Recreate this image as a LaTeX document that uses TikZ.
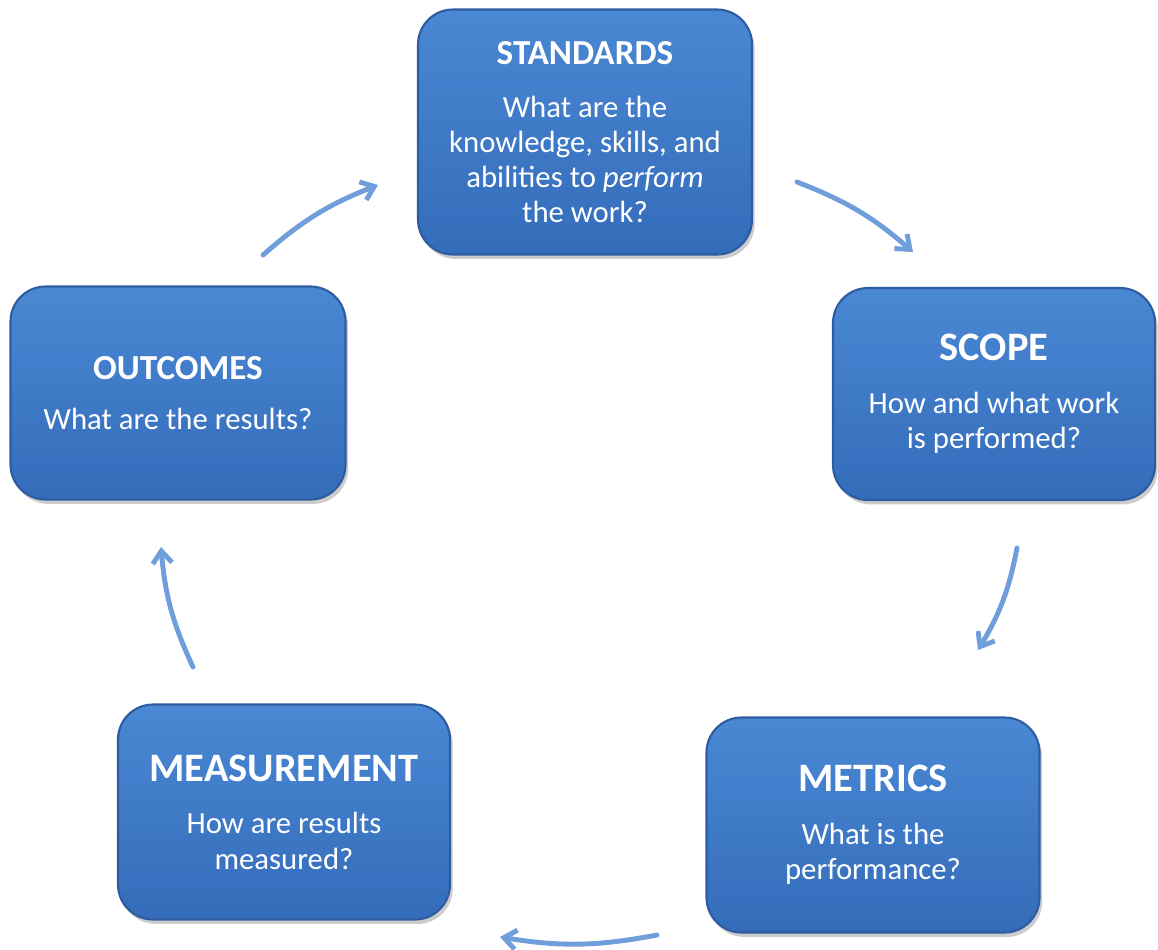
\documentclass[tikz,border=0pt]{standalone}
\usepackage{fontspec}
\setmainfont{Carlito}
\usetikzlibrary{arrows.meta,shadows,positioning}
\definecolor{boxtop}{RGB}{74,136,212}
\definecolor{boxbot}{RGB}{52,108,186}
\definecolor{boxedge}{RGB}{46,92,160}
\definecolor{arrowblue}{RGB}{112,158,218}
\newcommand{\bodytxt}{\fontsize{17.5}{20}\selectfont}
\newcommand{\headA}[1]{{\fontsize{20}{24}\selectfont\bfseries #1}}
\newcommand{\headB}[1]{{\fontsize{23}{27}\selectfont\bfseries #1}}
\tikzset{
  stepbox/.style={rounded corners=0.7cm, top color=boxtop, bottom color=boxbot, draw=boxedge, line width=1.2pt,
    drop shadow={opacity=0.4, shadow xshift=1.5pt, shadow yshift=-2.5pt},
    text=white, align=center, inner sep=0pt, font=\bodytxt},
  cyc/.style={-{Straight Barb[length=7pt,width=11pt]}, line width=2.8pt, color=arrowblue, line cap=round},
}
\begin{document}
\begin{tikzpicture}
\useasboundingbox (0,0) rectangle (23.16,-18.98);
\node[stepbox, minimum width=6.68cm, minimum height=4.9cm](std) at (11.70,-2.64) {\headA{STANDARDS}\\[10pt] What are the\\ knowledge, skills, and\\ abilities to \textit{perform}\\ the work?};
\node[stepbox, minimum width=6.44cm, minimum height=4.24cm](scp) at (19.88,-7.88) {\headB{SCOPE}\\[10pt] How and what work\\ is performed?};
\node[stepbox, minimum width=6.66cm, minimum height=4.3cm](met) at (17.46,-16.50) {\headB{METRICS}\\[10pt] What is the\\ performance?};
\node[stepbox, minimum width=6.64cm, minimum height=4.3cm](mea) at (5.68,-16.24) {\headB{MEASUREMENT}\\[10pt] How are results\\ measured?};
\node[stepbox, minimum width=6.7cm, minimum height=4.26cm](out) at (3.56,-7.86) {\headA{OUTCOMES}\\[8pt] What are the results?};

\coordinate (a1) at (5.26,-5.10);  \coordinate (b1) at (7.56,-3.70);
\coordinate (a2) at (15.94,-3.64); \coordinate (b2) at (18.26,-5.04);
\coordinate (a3) at (20.34,-10.96);\coordinate (b3) at (19.56,-13.00);
\coordinate (a4) at (13.14,-18.70);\coordinate (b4) at (10.00,-18.74);
\coordinate (a5) at (3.86,-13.34); \coordinate (b5) at (3.22,-10.94);

\draw [cyc] (a1) to [bend left=10] (b1);
\draw [cyc] (a2) to [bend left=10] (b2);
\draw [cyc] (a3) to [bend left=10] (b3);
\draw [cyc] (a4) to [bend left=10] (b4);
\draw [cyc] (a5) to [bend left=10] (b5);
\end{tikzpicture}
\end{document}
